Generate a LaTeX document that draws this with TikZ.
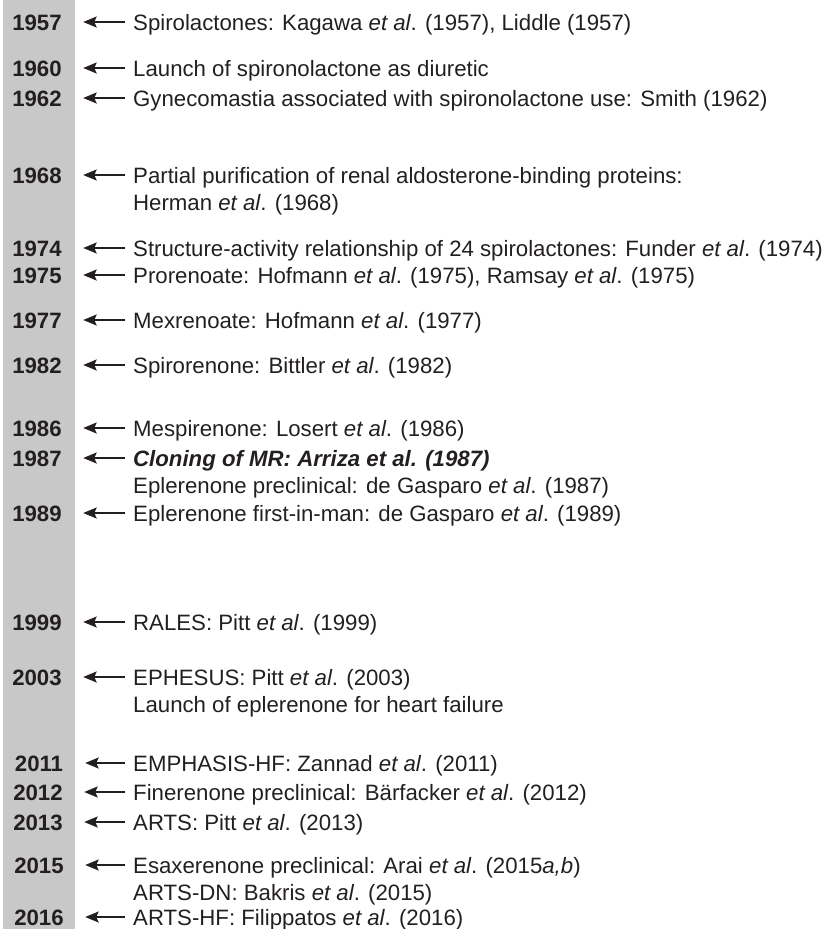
\documentclass[tikz,border=0pt]{standalone}
\usepackage{fontspec}
\setmainfont{Liberation Sans}
\usetikzlibrary{positioning,arrows.meta}
\definecolor{bargray}{RGB}{200,200,200}
\definecolor{inkdark}{RGB}{35,31,32}

\begin{document}
\begin{tikzpicture}[
  x=1bp,y=-1bp,
  yr/.style={font=\fontsize{22.3}{26}\selectfont\bfseries,text=inkdark,inner sep=0pt,text height=16bp,text depth=0pt,minimum width=92bp},
  ev/.style={font=\fontsize{22.3}{26}\selectfont,text=inkdark,inner sep=0pt,text height=16bp,text depth=0pt,anchor=west},
  evnext/.style={ev,below=11bp of #1.south west,anchor=north west},
  ar/.style={-{Stealth[length=13.5bp,width=11bp,inset=2.5bp]},line width=1.8pt,inkdark,shorten <=8bp}
]
\useasboundingbox (0,0) rectangle (829,929);
% the grey year strip
\fill[bargray] (3,0) rectangle (75,929);

% 1950s--1960s
\node[yr] (y1957) at (37,22) {1957};
\node[ev] (t1957) at (133,22) {Spirolactones: Kagawa \textit{et al}. (1957), Liddle (1957)};
\draw[ar] (t1957.west) -- (y1957.east);

\node[yr] (y1960) at (37,68) {1960};
\node[ev] (t1960) at (133,68) {Launch of spironolactone as diuretic};
\draw[ar] (t1960.west) -- (y1960.east);

\node[yr] (y1962) at (37,98) {1962};
\node[ev] (t1962) at (133,98) {Gynecomastia associated with spironolactone use: Smith (1962)};
\draw[ar] (t1962.west) -- (y1962.east);

\node[yr] (y1968) at (37,175) {1968};
\node[ev] (t1968) at (133,175) {Partial purification of renal aldosterone-binding proteins:};
\node[evnext=t1968] (t1968b) {Herman \textit{et al}. (1968)};
\draw[ar] (t1968.west) -- (y1968.east);

% 1970s--1980s
\node[yr] (y1974) at (37,248) {1974};
\node[ev] (t1974) at (133,248) {Structure-activity relationship of 24 spirolactones: Funder \textit{et al}. (1974)};
\draw[ar] (t1974.west) -- (y1974.east);

\node[yr] (y1975) at (37,275) {1975};
\node[ev] (t1975) at (133,275) {Prorenoate: Hofmann \textit{et al}. (1975), Ramsay \textit{et al}. (1975)};
\draw[ar] (t1975.west) -- (y1975.east);

\node[yr] (y1977) at (37,320) {1977};
\node[ev] (t1977) at (133,320) {Mexrenoate: Hofmann \textit{et al}. (1977)};
\draw[ar] (t1977.west) -- (y1977.east);

\node[yr] (y1982) at (37,365) {1982};
\node[ev] (t1982) at (133,365) {Spirorenone: Bittler \textit{et al}. (1982)};
\draw[ar] (t1982.west) -- (y1982.east);

\node[yr] (y1986) at (37,428) {1986};
\node[ev] (t1986) at (133,428) {Mespirenone: Losert \textit{et al}. (1986)};
\draw[ar] (t1986.west) -- (y1986.east);

\node[yr] (y1987) at (37,458) {1987};
\node[ev] (t1987) at (133,458) {\textbf{\textit{Cloning of MR: Arriza et al. (1987)}}};
\node[evnext=t1987] (t1987b) {Eplerenone preclinical: de Gasparo \textit{et al}. (1987)};
\draw[ar] (t1987.west) -- (y1987.east);

\node[yr] (y1989) at (37,513) {1989};
\node[ev] (t1989) at (133,513) {Eplerenone first-in-man: de Gasparo \textit{et al}. (1989)};
\draw[ar] (t1989.west) -- (y1989.east);

% 1990s--2000s
\node[yr] (y1999) at (37,622) {1999};
\node[ev] (t1999) at (133,622) {RALES: Pitt \textit{et al}. (1999)};
\draw[ar] (t1999.west) -- (y1999.east);

\node[yr] (y2003) at (37,677) {2003};
\node[ev] (t2003) at (133,677) {EPHESUS: Pitt \textit{et al}. (2003)};
\node[evnext=t2003] (t2003b) {Launch of eplerenone for heart failure};
\draw[ar] (t2003.west) -- (y2003.east);

% 2010s
\node[yr] (y2011) at (39,763) {2011};
\node[ev] (t2011) at (133,763) {EMPHASIS-HF: Zannad \textit{et al}. (2011)};
\draw[ar] (t2011.west) -- (y2011.east);

\node[yr] (y2012) at (38,792) {2012};
\node[ev] (t2012) at (133,792) {Finerenone preclinical: Bärfacker \textit{et al}. (2012)};
\draw[ar] (t2012.west) -- (y2012.east);

\node[yr] (y2013) at (38,822) {2013};
\node[ev] (t2013) at (133,822) {ARTS: Pitt \textit{et al}. (2013)};
\draw[ar] (t2013.west) -- (y2013.east);

\node[yr] (y2015) at (39,865) {2015};
\node[ev] (t2015) at (133,865) {Esaxerenone preclinical: Arai \textit{et al}. (2015\textit{a,b})};
\node[evnext=t2015] (t2015b) {ARTS-DN: Bakris \textit{et al}. (2015)};
\draw[ar] (t2015.west) -- (y2015.east);

\node[yr] (y2016) at (39,917) {2016};
\node[ev] (t2016) at (133,917) {ARTS-HF: Filippatos \textit{et al}. (2016)};
\draw[ar] (t2016.west) -- (y2016.east);
\end{tikzpicture}
\end{document}
